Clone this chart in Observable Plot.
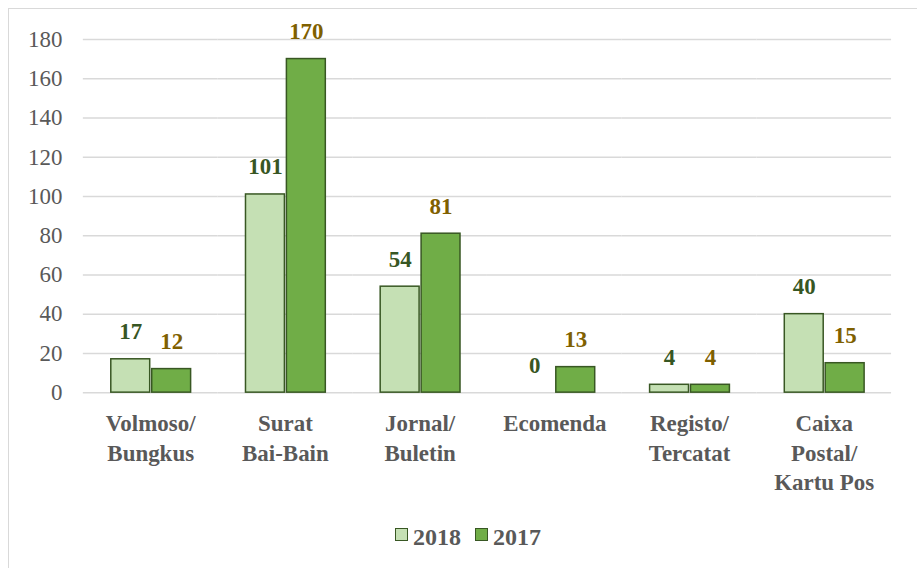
<!DOCTYPE html>
<html>
<head>
<meta charset="utf-8">
<script src="https://cdn.jsdelivr.net/npm/d3@7"></script>
<script src="https://cdn.jsdelivr.net/npm/@observablehq/plot@0.6"></script>
<style>
  html, body { margin: 0; padding: 0; background: #fff; }
  #frame { position: absolute; left: 8px; top: 8px; width: 914px; height: 566px; border: 1px solid #d9d9d9; box-sizing: border-box; font-family: "Liberation Serif", "Times New Roman", Tinos, "DejaVu Serif", serif; }
  #chart svg, #chart svg text { font-family: "Liberation Serif", "Times New Roman", Tinos, "DejaVu Serif", serif !important; }
  #legend { position: absolute; left: 0; top: 515px; width: 914px; display: flex; justify-content: center; gap: 14px; font-weight: bold; font-size: 24px; color: #595959; margin-left: 2px; }
  .item { display: flex; align-items: center; gap: 5px; }
  .sw { width: 11px; height: 11px; border: 1.5px solid #385723; display: inline-block; margin-top: -6px; }
</style>
</head>
<body>
<div id="frame"><div id="chart"></div><div id="legend"></div></div>
<script>
const categories = ["Volmoso/\nBungkus", "Surat\nBai-Bain", "Jornal/\nBuletin", "Ecomenda", "Registo/\nTercatat", "Caixa\nPostal/\nKartu Pos"];
const series = ["2018", "2017"];
const values2018 = [17, 101, 54, 0, 4, 40];
const values2017 = [12, 170, 81, 13, 4, 15];
const yTicks = [0, 20, 40, 60, 80, 100, 120, 140, 160, 180];

const fills = {"2018": "#C5E0B4", "2017": "#70AD47"};
const labelColors = {"2018": "#375623", "2017": "#7F6000"};

const data = [];
categories.forEach((c, i) => {
  data.push({cat: c, year: "2018", value: values2018[i]});
  data.push({cat: c, year: "2017", value: values2017[i]});
});

const chart = Plot.plot({
  width: 914,
  height: 500,
  marginLeft: 71,
  marginRight: 28,
  marginTop: 30,
  marginBottom: 116,
  style: {background: "transparent"},
  fx: {domain: categories, padding: 0, axis: null},
  x: {domain: series, paddingInner: 0.05, paddingOuter: 0.66, axis: null},
  y: {domain: [0, 180], ticks: yTicks, axis: null},
  marks: [
    Plot.ruleY(yTicks, {y: d => d, stroke: "#d9d9d9", strokeWidth: 1.5}),
    Plot.axisY({ticks: yTicks, tickSize: 0, tickPadding: 21, fontSize: 23, color: "#595959", label: null, facetAnchor: "left"}),
    Plot.barY(data, {fx: "cat", x: "year", y: "value", fill: d => fills[d.year], stroke: "#385723", strokeWidth: 1.5, filter: d => d.value > 0}),
    Plot.text(data, {fx: "cat", x: "year", y: "value", text: d => String(d.value), fill: d => labelColors[d.year], fontWeight: "bold", fontSize: 23, lineAnchor: "bottom", dy: -20}),
    Plot.text(categories, {fx: d => d, text: d => d, frameAnchor: "bottom", lineAnchor: "top", dy: 18, fontSize: 23, fontWeight: "bold", fill: "#595959", lineHeight: 1.28})
  ]
});
document.getElementById("chart").appendChild(chart);

const legend = document.getElementById("legend");
series.forEach(s => {
  const it = document.createElement("div");
  it.className = "item";
  const sw = document.createElement("span");
  sw.className = "sw";
  sw.style.background = fills[s];
  const t = document.createElement("span");
  t.textContent = s;
  it.appendChild(sw); it.appendChild(t);
  legend.appendChild(it);
});
</script>
</body>
</html>
